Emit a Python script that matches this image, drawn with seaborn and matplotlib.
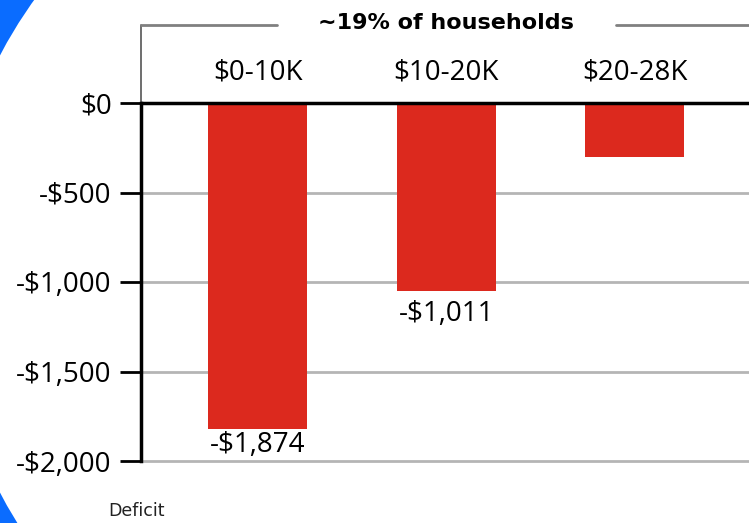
import numpy as np
import pandas as pd
import seaborn as sns
import matplotlib.pyplot as plt
from matplotlib.patches import Ellipse

# data
categories = ["$0-10K", "$10-20K", "$20-28K"]
bar_values = [-1820, -1050, -300]
bar_labels = ["-$1,874", "-$1,011", ""]
y_ticks = [0, -500, -1000, -1500, -2000]
y_tick_labels = ["$0", "-$500", "-$1,000", "-$1,500", "-$2,000"]
bracket_title = "~19% of households"
note = "Deficit"

df = pd.DataFrame({"bracket": categories, "deficit": bar_values})

sns.set_style("white")
plt.rcParams['font.family'] = ['Open Sans', 'DejaVu Sans']

W, H = 749, 523
fig = plt.figure(figsize=(W / 100, H / 100), dpi=100)
fig.patch.set_facecolor("#0a6cff")

# white circle over the blue background (decoration on the left edge)
cx, cy, r = 416, 274, 470
circ = Ellipse((cx / W, 1 - cy / H), 2 * r / W, 2 * r / H, transform=fig.transFigure,
               facecolor="white", edgecolor="none", zorder=-1)
fig.patches.append(circ)

# axes spans from the bracket line (y=25px) to a bit under the -2000 line
ppu = 0.179  # pixels per dollar
ax = fig.add_axes([141 / W, 1 - 466 / H, 1 - 141 / W, (466 - 25) / H])
ax.patch.set_alpha(0)

sns.barplot(data=df, x="bracket", y="deficit", color="#dc291e", width=0.525,
            saturation=1, linewidth=0, ax=ax, zorder=3)

ax.set_xlim(-0.62, 2.605)
ylo = -2000 - 5 / ppu
ytop = 78 / ppu
ax.set_ylim(ylo, ytop)

# gridlines
for t in y_ticks[1:]:
    ax.axhline(t, color="#b5b5b5", lw=2, zorder=1)
ax.axhline(0, color="black", lw=2.5, zorder=4)

ax.set_yticks(y_ticks)
ax.set_yticklabels(y_tick_labels, fontsize=20, color="black")
ax.tick_params(axis="y", length=15, width=2, color="black", pad=6, left=True)
ax.set_xticks([])
ax.set_xlabel("")
ax.set_ylabel("")

for s in ["top", "right", "bottom"]:
    ax.spines[s].set_visible(False)
ax.spines["left"].set_bounds(-2000, 0)
ax.spines["left"].set_linewidth(2.5)
ax.spines["left"].set_color("black")

# thin bracket above the zero line
ax.plot([-0.62, -0.62], [0, ytop], color="#555555", lw=1.2, clip_on=False)
ax.plot([-0.62, 0.1], [ytop, ytop], color="#808080", lw=2, clip_on=False)
ax.plot([1.9, 2.61], [ytop, ytop], color="#808080", lw=2, clip_on=False)
ax.text(1.0, ytop + 10, bracket_title, family="DejaVu Sans", ha="center", va="center",
        fontsize=16, fontweight="bold", color="black")

# category labels above the bars
for i, c in enumerate(categories):
    ax.text(i, 170, c, ha="center", va="center", fontsize=20, color="black")

# value labels under the bars
label_drop = [16, 23]
for i, (v, lab) in enumerate(zip(bar_values, bar_labels)):
    if lab:
        ax.annotate(lab, (i, v), xytext=(0, -label_drop[i] * 0.72), textcoords="offset points",
                    ha="center", va="center", fontsize=20, color="black", zorder=5)

fig.text(108 / W, 1 - 511 / H, note, family="DejaVu Sans", ha="left", va="center",
         fontsize=12.5, color="#222222")

fig.savefig("out.png", dpi=100)
